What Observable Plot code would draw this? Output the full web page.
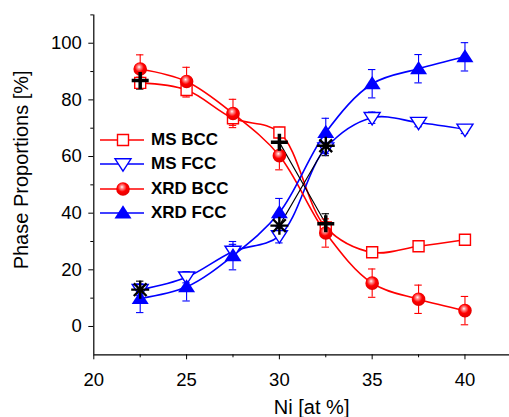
<!DOCTYPE html>
<html>
<head>
<meta charset="utf-8">
<script src="https://cdn.jsdelivr.net/npm/d3@7"></script>
<script src="https://cdn.jsdelivr.net/npm/@observablehq/plot@0.6"></script>
<style>
  html, body { margin: 0; padding: 0; background: white; }
  #wrap { position: relative; width: 509px; height: 417px; overflow: hidden; }
  #legend { position: absolute; left: 99px; top: 128px; font-family: 'Liberation Sans', Arial, sans-serif; font-weight: bold; font-size: 17px; }
  .row { display: flex; align-items: center; height: 24.3px; }
  .row svg { display: block; }
  .row span { margin-left: 6px; }
</style>
</head>
<body>
<div id="wrap"><div id="legend"></div></div>
<script>
// ---- data ----
const ni = [22.5, 25, 27.5, 30, 32.5, 35, 37.5, 40];
const msBcc    = [86, 83.5, 73.5, 68.5, 35, 26.2, 28.3, 30.6];
const msBccErr = [2, 2.5, 2.5, 1.8, 2, 1.8, 1.5, 1.5];
const msFcc    = [13, 17.4, 26.5, 32, 63, 73.7, 72, 69.6];
const msFccErr = [2, 2, 2.5, 2.5, 2, 2, 1.5, 1.5];
const xrdBcc    = [90.9, 86.5, 75.2, 60.3, 33, 15.3, 9.6, 5.6];
const xrdBccErr = [5, 5, 5, 5, 5, 5, 5, 5];
const xrdFcc    = [9.9, 14, 25, 40.2, 68.5, 85.7, 91, 95.2];
const xrdFccErr = [5, 5, 5, 5, 5, 5, 5, 5];
const blackNi   = [22.5, 30, 32.5];
const plusY     = [86.8, 65, 36.3];
const starY     = [13, 35.6, 63.8];
const blackErr  = [3, 3.5, 3.5];
const seriesNames = ["MS BCC", "MS FCC", "XRD BCC", "XRD FCC"];
const xTicks = [20, 25, 30, 35, 40];
const xMinor = [22.5, 27.5, 32.5, 37.5];
const yTicks = [0, 20, 40, 60, 80, 100];
const yMinor = [10, 30, 50, 70, 90, 110];
const xLabel = "Ni [at %]";
const yLabel = "Phase Proportions [%]";

// ---- symbols ----
const rOf = s => Math.sqrt(s / Math.PI);
const symSquare = { draw(c, s) { const r = rOf(s); c.rect(-r, -r, 2 * r, 2 * r); } };
const symTriUp = { draw(c, s) { const r = rOf(s); c.moveTo(0, -r * 0.9); c.lineTo(r, r * 0.65); c.lineTo(-r, r * 0.65); c.closePath(); } };
const symTriDown = { draw(c, s) { const r = rOf(s); c.moveTo(0, r * 0.9); c.lineTo(r, -r * 0.65); c.lineTo(-r, -r * 0.65); c.closePath(); } };
const symCircle = { draw(c, s) { const r = rOf(s); c.moveTo(r, 0); c.arc(0, 0, r, 0, 2 * Math.PI); } };
const symPlus = { draw(c, s) { const r = rOf(s); c.moveTo(-r, 0); c.lineTo(r, 0); c.moveTo(0, -r); c.lineTo(0, r); } };
const symStar = { draw(c, s) { const r = rOf(s); const d = r * Math.SQRT1_2;
  c.moveTo(-r, 0); c.lineTo(r, 0); c.moveTo(0, -r); c.lineTo(0, r);
  c.moveTo(-d, -d); c.lineTo(d, d); c.moveTo(-d, d); c.lineTo(d, -d); } };

const RED = "#ff0000", BLUE = "#0000ff";
const styles = [
  { color: RED,  symbol: symSquare,   r: 5.5, fill: "white", sw: 1.4 },
  { color: BLUE, symbol: symTriDown,  r: 8,   fill: "white", sw: 1.4 },
  { color: RED,  symbol: symCircle,   r: 6.8, fill: "url(#ballRed)", sw: 0 },
  { color: BLUE, symbol: symTriUp,    r: 8.5, fill: BLUE, sw: 0 }
];
const vals = [msBcc, msFcc, xrdBcc, xrdFcc];
const errs = [msBccErr, msFccErr, xrdBccErr, xrdFccErr];
const series = seriesNames.map((name, k) => ni.map((x, i) => ({ name, x, y: vals[k][i], e: errs[k][i] })));
const plus = blackNi.map((x, i) => ({ x, y: plusY[i], e: blackErr[i] }));
const star = blackNi.map((x, i) => ({ x, y: starY[i], e: blackErr[i] }));
const cap = 0.2;

const errMarks = (data, color) => [
  Plot.ruleX(data, { x: "x", y1: d => d.y - d.e, y2: d => d.y + d.e, stroke: color, strokeWidth: 1.1 }),
  Plot.ruleY(data, { y: d => d.y + d.e, x1: d => d.x - cap, x2: d => d.x + cap, stroke: color, strokeWidth: 1.1 }),
  Plot.ruleY(data, { y: d => d.y - d.e, x1: d => d.x - cap, x2: d => d.x + cap, stroke: color, strokeWidth: 1.1 })
];

const marks = [
  Plot.ruleX([20], { y1: -10, y2: 110, stroke: "black", strokeWidth: 1.2 }),
  Plot.ruleY([-10], { stroke: "black", strokeWidth: 1.2 }),
  Plot.axisY({ ticks: yTicks, tickSize: 5, tickPadding: 7, fontSize: 18.5, label: null }),
  Plot.axisY({ ticks: yMinor, tickSize: 3, tickFormat: () => "", label: null }),
  Plot.axisX({ ticks: xTicks, tickSize: 5, tickPadding: 13, fontSize: 18.5, label: null }),
  Plot.axisX({ ticks: xMinor, tickSize: 3, tickFormat: () => "", label: null }),
  Plot.text([yLabel], { text: d => d, frameAnchor: "left", rotate: -90, dx: -72, dy: -15, fontSize: 20, textAnchor: "middle", lineAnchor: "middle" }),
  Plot.text([xLabel], { text: d => d, frameAnchor: "bottom", dx: 10, dy: 45, fontSize: 20, textAnchor: "middle", lineAnchor: "top" })
];
series.forEach((data, k) => {
  marks.push(Plot.line(data, { x: "x", y: "y", curve: "catmull-rom", stroke: styles[k].color, strokeWidth: 1.6 }));
});
// black connectors between the last two measurements
marks.push(Plot.line(plus.filter(d => d.x >= 30), { x: "x", y: "y", stroke: "black", strokeWidth: 1.1 }));
marks.push(Plot.line(star.filter(d => d.x >= 30), { x: "x", y: "y", stroke: "black", strokeWidth: 1.1 }));
series.forEach((data, k) => marks.push(...errMarks(data, styles[k].color)));
marks.push(...errMarks(plus, "black"), ...errMarks(star, "black"));
series.forEach((data, k) => {
  const s = styles[k];
  marks.push(Plot.dot(data, { x: "x", y: "y", symbol: s.symbol, r: s.r, fill: s.fill, stroke: s.sw ? s.color : "none", strokeWidth: s.sw }));
});
marks.push(Plot.dot(plus, { x: "x", y: "y", symbol: symPlus, r: 8.5, fill: "none", stroke: "black", strokeWidth: 3.5 }));
marks.push(Plot.dot(star, { x: "x", y: "y", symbol: symStar, r: 9, fill: "none", stroke: "black", strokeWidth: 2.4 }));

const chart = Plot.plot({
  width: 509, height: 417,
  marginLeft: 93.3, marginRight: 0, marginTop: 14.4, marginBottom: 62.7,
  x: { domain: [20, 42.4] },
  y: { domain: [-10, 110] },
  style: { fontFamily: "'Liberation Sans', Arial, sans-serif", color: "black", background: "white", overflow: "visible" },
  marks
});
chart.insertAdjacentHTML("afterbegin",
  `<defs><radialGradient id="ballRed" cx="0.45" cy="0.4" r="0.6" fx="0.42" fy="0.35">
     <stop offset="0" stop-color="#ffffff"/>
     <stop offset="0.18" stop-color="#ff9a9a"/>
     <stop offset="0.55" stop-color="#ff0000"/>
     <stop offset="1" stop-color="#e00000"/>
   </radialGradient></defs>`);
document.getElementById("wrap").prepend(chart);

// legend
const legend = d3.select("#legend");
seriesNames.forEach((name, k) => {
  const s = styles[k];
  const row = legend.append("div").attr("class", "row");
  const svg = row.append("svg").attr("width", 46).attr("height", 24);
  svg.append("line").attr("x1", 1).attr("x2", 45).attr("y1", 12).attr("y2", 12).attr("stroke", s.color).attr("stroke-width", 1.6);
  svg.append("path").attr("transform", "translate(24,12)")
    .attr("d", d3.symbol(s.symbol, s.r * s.r * Math.PI)())
    .attr("fill", s.fill).attr("stroke", s.sw ? s.color : "none").attr("stroke-width", s.sw);
  row.append("span").text(name);
});
</script>
</body>
</html>
